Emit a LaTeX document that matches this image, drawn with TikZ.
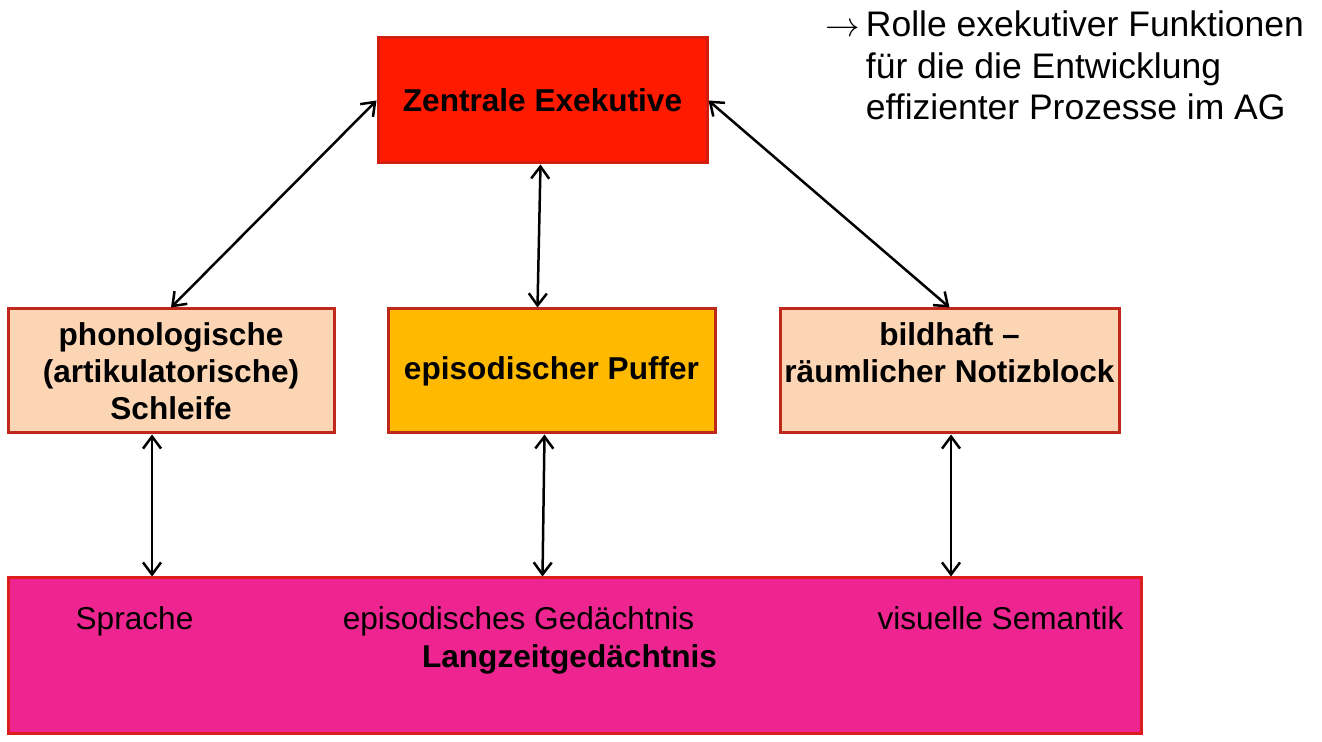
\documentclass[tikz,border=0pt]{standalone}
\usepackage{amsmath}
\usepackage{fontspec}
\setmainfont{Liberation Sans}
\usetikzlibrary{arrows.meta, positioning, calc}
\definecolor{exered}{HTML}{FF1A00}
\definecolor{exeborder}{HTML}{D21E0E}
\definecolor{slavepeach}{HTML}{FCD5B4}
\definecolor{slaveborder}{HTML}{C0281C}
\definecolor{pufferorange}{HTML}{FFBA00}
\definecolor{ltmpink}{HTML}{EE2590}
\definecolor{ltmborder}{HTML}{DD1C1C}

\begin{document}
\begin{tikzpicture}[
    x=0.5pt, y=-0.5pt,
    box/.style={rectangle, draw=#1, line width=1.5pt, align=center,
                inner sep=0pt, font=\fontsize{15.8}{18.5}\selectfont\bfseries},
    ltmtext/.style={inner sep=0pt, anchor=base, font=\fontsize{15.8}{18.5}\selectfont},
    arrow/.style={{Straight Barb[length=6pt,width=9pt]}-{Straight Barb[length=6pt,width=9pt]},
                  line width=1.25pt, black}
]
\useasboundingbox (0,0) rectangle (1322,742);

\node[box=exeborder, fill=exered, minimum width=164.5pt, minimum height=62.5pt]
    (zen) at (542.5,100.5) {Zentrale Exekutive};
\node[box=slaveborder, fill=slavepeach, minimum width=163pt, minimum height=62pt]
    (phon) at (171,371) {phonologische\\(artikulatorische)\\Schleife};
\node[box=slaveborder, fill=pufferorange, minimum width=163.5pt, minimum height=62pt]
    (puf) at (551.5,371) {\raisebox{1.5pt}{episodischer Puffer}};
\node[box=slaveborder, fill=slavepeach, minimum width=169.5pt, minimum height=62pt]
    (bild) at (949.5,371) {bildhaft --\\räumlicher Notizblock\\\mbox{}};
\node[box=ltmborder, fill=ltmpink, minimum width=566.5pt, minimum height=77.5pt]
    (lzg) at (574.5,655.5) {};

% Inhalte des Langzeitgedaechtnisses
\node[ltmtext] (spr) at (134.5,629) {Sprache};
\node[ltmtext] (epi) at (518.5,629) {episodisches Gedächtnis};
\node[ltmtext] (vis) at (1000.5,629) {visuelle Semantik};
\node[ltmtext, font=\fontsize{15.8}{18.5}\selectfont\bfseries] (lzgname) at (569.5,667) {Langzeitgedächtnis};

\draw[arrow] (zen.west) -- (phon.north);
\draw[arrow] ([xshift=-1pt]zen.south) -- ([xshift=-7pt]puf.north);
\draw[arrow] (zen.east) -- (bild.north);

\draw[arrow] ([xshift=-9.5pt]phon.south) -- ([xshift=-9.5pt]phon.south |- lzg.north);
\draw[arrow] ([xshift=-3.5pt]puf.south) -- ([xshift=-4.5pt]puf.south |- lzg.north);
\draw[arrow] ([xshift=0.75pt]bild.south) -- ([xshift=0.75pt]bild.south |- lzg.north);

% Anmerkung rechts oben
\node[inner sep=0pt, anchor=base west, align=left,
      font=\fontsize{17.75}{20.75}\selectfont] (note) at (825,37)
    {\begin{tabular}[t]{@{}l@{\hspace{3pt}}l@{}}
      $\rightarrow$ & Rolle exekutiver Funktionen\\
      & für die die Entwicklung\\
      & effizienter Prozesse im AG
     \end{tabular}};
\end{tikzpicture}
\end{document}
